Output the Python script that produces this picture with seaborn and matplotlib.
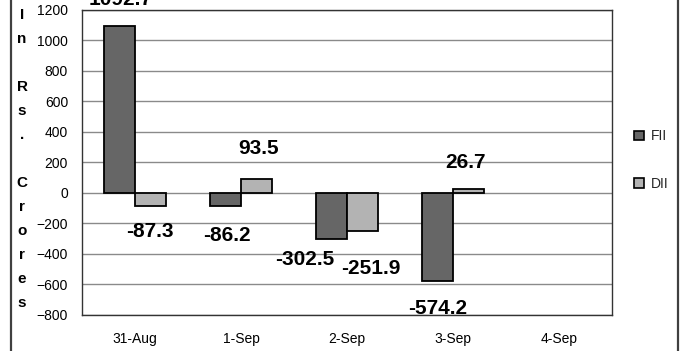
import matplotlib
matplotlib.use("Agg")
import matplotlib.pyplot as plt
from matplotlib.patches import Patch
from matplotlib.lines import Line2D
import pandas as pd
import seaborn as sns

# Daily net investment (Rs. crores)
dates = ["31-Aug", "1-Sep", "2-Sep", "3-Sep", "4-Sep"]
fii = [1092.7, -86.2, -302.5, -574.2, None]
dii = [-87.3, 93.5, -251.9, 26.7, None]
series_names = ["FII", "DII"]
y_ticks = list(range(-800, 1201, 200))
axis_title = "In Rs. Crores"

sns.set_theme(style="white")
plt.rcParams["font.family"] = ["Liberation Sans", "DejaVu Sans"]

rows = []
for name, vals in zip(series_names, [fii, dii]):
    for d, v in zip(dates, vals):
        if v is not None:
            rows.append({"date": d, "series": name, "value": v})
df = pd.DataFrame(rows)

palette = {"FII": "#666666", "DII": "#b3b3b3"}

W, H = 683, 351
fig = plt.figure(figsize=(W / 100, H / 100), dpi=100)
ax = fig.add_axes([82 / W, 1 - 315 / H, 530 / W, (315 - 9.5) / H])

sns.barplot(data=df, x="date", y="value", hue="series", order=dates,
            hue_order=series_names, palette=palette, width=0.58, gap=0,
            edgecolor="black", linewidth=1.3, saturation=1, errorbar=None,
            legend=False, ax=ax, zorder=3)

ax.set_xlim(-0.5, len(dates) - 0.5)
ax.set_ylim(-800, 1200)
ax.set_yticks(y_ticks)
ax.set_xlabel("")
ax.set_ylabel("")
ax.grid(axis="y", color="#8a8a8a", linewidth=1)
ax.grid(axis="x", visible=False)
ax.set_axisbelow(True)
ax.tick_params(axis="y", length=0, labelsize=10, pad=10, colors="black")
ax.tick_params(axis="x", length=0, labelsize=10, pad=12, colors="black")
for sp in ax.spines.values():
    sp.set_visible(True)
    sp.set_color("#333333")
    sp.set_linewidth(1)

# Value labels: per-bar nudges (pixels) away from the bar end
label_nudge = {
    "FII": [(1, 26), (1, -30), (-27, -20), (0, -28)],
    "DII": [(0, -25), (2, 30), (8, -37), (-3, 26)],
}
for cont, name, vals in zip(ax.containers, series_names, [fii, dii]):
    present = [v for v in vals if v is not None]
    for bar, v, (dx, dy) in zip(cont.patches, present, label_nudge[name]):
        xc = bar.get_x() + bar.get_width() / 2
        ax.annotate(f"{v:.1f}", xy=(xc, v), xytext=(dx, dy),
                    textcoords="offset pixels", ha="center", va="center",
                    fontsize=15, fontweight="bold", color="black",
                    annotation_clip=False, zorder=5)

# Vertical axis title, one character per line
for i, ch in enumerate(axis_title):
    if ch.strip():
        fig.text(22 / W, 1 - (15 + i * 24) / H, ch, ha="center", va="center",
                 fontsize=11, fontweight="bold", color="black")

handles = [Patch(facecolor=palette[n], edgecolor="black", linewidth=1.2, label=n)
           for n in series_names]
fig.legend(handles=handles, loc="center left",
           bbox_to_anchor=(627 / W, 1 - 160 / H), frameon=False, fontsize=10,
           handlelength=0.7, handleheight=0.7, handletextpad=0.5,
           labelspacing=2.4, borderpad=0)

# Chart-area frame edges
for xp in (11, 678):
    fig.add_artist(Line2D([xp / W, xp / W], [0, 1], transform=fig.transFigure,
                          color="#404040", linewidth=1.6))

fig.savefig("out.png", dpi=100)
